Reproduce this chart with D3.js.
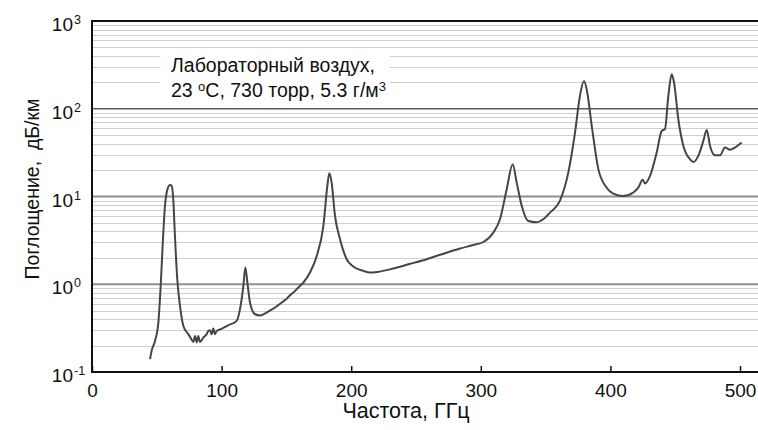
<!DOCTYPE html>
<html>
<head>
<meta charset="utf-8">
<script src="https://cdn.jsdelivr.net/npm/d3@7"></script>
<style>
  body { margin: 0; background: #fff; }
  svg { display: block; font-family: "Liberation Sans", Arial, sans-serif; }
</style>
</head>
<body>
<svg id="chart" width="758" height="430"></svg>
<script>
// frequency, GHz
const freq = [44.8, 46, 48.6, 51.2, 53, 54.5, 56.3, 58.1, 60.2, 61.5, 62.7, 64, 65.8, 67.9, 70.5,
  74.3, 76, 78.2, 79.5, 80.8, 82, 83.3, 85.9, 88.5, 89.8, 91, 92.3, 93.6, 94.9, 96.2, 100, 105,
  111.6, 114.2, 116.8, 118.3, 119.9, 121.9, 125.8, 129.6, 133, 137.3, 141, 146.4, 150, 152.8, 156,
  159.2, 163, 168.2, 173.4, 178.5, 181.6, 183.1, 184.9, 187.5, 191.4, 196.5, 201.6, 209.3, 214.5,
  220, 232.5, 245, 258.2, 270, 284, 294, 302, 309.7, 314.8, 320, 324.6, 327.7, 331.6, 336.7, 343.1,
  348.2, 353.4, 361, 367.5, 372.7, 376.5, 379.6, 381.7, 385.6, 390.7, 397.1, 402.2, 409.9, 417.7,
  421.5, 424.9, 426.7, 430.5, 435.7, 439.6, 442.1, 444.7, 447.3, 449.1, 452.4, 456.3, 461.4, 464,
  467.8, 471.7, 474.3, 476.9, 480.7, 484.6, 488.4, 492.3, 496.1, 501.3];

// absorption, dB/km
const absorption = [0.14, 0.174, 0.226, 0.366, 0.96, 2.73, 7.8, 11.9, 13.5, 13.2, 9.3, 3.55, 1.14, 0.566, 0.335,
  0.27, 0.247, 0.22, 0.258, 0.217, 0.258, 0.22, 0.247, 0.27, 0.294, 0.3, 0.27, 0.313, 0.27, 0.294, 0.31, 0.34,
  0.382, 0.52, 0.96, 1.55, 1.04, 0.62, 0.455, 0.44, 0.46, 0.5, 0.54, 0.62, 0.68, 0.75, 0.82,
  0.92, 1.04, 1.36, 2.1, 4.6, 13.2, 18.4, 14.4, 6.0, 3.26, 1.93, 1.59, 1.42, 1.36,
  1.38, 1.51, 1.7, 1.93, 2.2, 2.55, 2.8, 3.03, 3.89, 5.5, 12.1, 23.3, 14.4, 7.8, 5.26, 5.1,
  5.5, 6.56, 8.9, 18.7, 53.5, 140, 207, 167, 63.9, 20.5, 12.6, 10.8, 10.1, 11.1,
  12.6, 15.5, 14.1, 17.1, 31.7, 55.8, 58.5, 140, 247, 199, 75.9, 37.7, 26.6, 24.7,
  29, 43, 57.3, 37.7, 29.5, 29.5, 36.1, 34.1, 36.1, 41.2];

const xTicks = [0, 100, 200, 300, 400, 500];
const yDecades = [0.1, 1, 10, 100, 1000];
const yExponents = ['-1', '0', '1', '2', '3'];

const legendLines = ['Лабораторный воздух,'];
const xTitle = 'Частота, ГГц';
const yTitle = 'Поглощение,  дБ/км';

const svg = d3.select('#chart');
const plotLeft = 92;
const plotTop = 21;
const plotBottom = 372;
const plotRight = 758;

const x = d3.scaleLinear().domain([0, 500]).range([plotLeft, 740]);
const y = d3.scaleLog().domain([0.1, 1000]).range([plotBottom, plotTop]);

// minor grid
svg.append('g')
  .selectAll('line')
  .data(y.ticks().filter((d) => !yDecades.includes(d)))
  .join('line')
  .attr('x1', plotLeft)
  .attr('x2', plotRight)
  .attr('y1', (d) => Math.round(y(d)) + 0.5)
  .attr('y2', (d) => Math.round(y(d)) + 0.5)
  .attr('stroke', '#cfcfcf')
  .attr('stroke-width', 1.2);

// major grid
svg.append('g')
  .selectAll('line')
  .data([1, 10, 100])
  .join('line')
  .attr('x1', plotLeft)
  .attr('x2', plotRight)
  .attr('y1', (d) => y(d))
  .attr('y2', (d) => y(d))
  .attr('stroke', (d) => (d === 100 ? '#5a5a5a' : '#8e8e8e'))
  .attr('stroke-width', (d) => (d === 100 ? 1.3 : 2));

// legend box
const box = svg.append('g');
box.append('rect')
  .attr('x', 160)
  .attr('y', 51)
  .attr('width', 230)
  .attr('height', 53)
  .attr('fill', '#fff');

box.append('text')
  .attr('x', 171)
  .attr('y', 72)
  .attr('font-size', 19.5)
  .attr('fill', '#111')
  .text(legendLines[0]);

const line2 = box.append('text')
  .attr('x', 171)
  .attr('y', 97)
  .attr('font-size', 19.5)
  .attr('fill', '#111');
line2.append('tspan').text('23 ');
line2.append('tspan').attr('font-size', 13).attr('dy', -6).text('o');
line2.append('tspan').attr('dy', 6).text('C, 730 торр, 5.3 г/м');
line2.append('tspan').attr('font-size', 13).attr('dy', -6).text('3');

// curve
const pts = freq.map((f, i) => [f, absorption[i]]);
svg.append('path')
  .datum(pts)
  .attr('fill', 'none')
  .attr('stroke', '#454545')
  .attr('stroke-width', 2)
  .attr('stroke-linejoin', 'round')
  .attr('d', d3.line().x((d) => x(d[0])).y((d) => y(d[1])).curve(d3.curveMonotoneX));

// frame: top, left, bottom
svg.append('line').attr('x1', plotLeft).attr('x2', plotRight).attr('y1', plotTop).attr('y2', plotTop)
  .attr('stroke', '#111').attr('stroke-width', 2);

const gx = svg.append('g')
  .attr('transform', `translate(0,${plotBottom})`)
  .call(d3.axisBottom(x).tickValues(xTicks).tickSize(-6).tickSizeOuter(0).tickFormat(d3.format('d')));
gx.select('.domain').attr('stroke', '#111').attr('stroke-width', 2).attr('d', `M${plotLeft},0H${plotRight}`);
gx.selectAll('.tick line').attr('stroke', '#111').attr('stroke-width', 1.5);
gx.selectAll('.tick text')
  .attr('y', 25)
  .attr('dy', 0)
  .attr('font-size', 19)
  .attr('font-family', '"Liberation Sans", Arial, sans-serif')
  .attr('fill', '#111');

svg.append('line').attr('x1', plotLeft).attr('x2', plotLeft).attr('y1', plotTop - 1).attr('y2', plotBottom + 1)
  .attr('stroke', '#111').attr('stroke-width', 2);

// y tick labels as 10^n
const yl = svg.append('g').selectAll('g').data(yDecades).join('g');
yl.append('text')
  .attr('x', 73)
  .attr('y', (d) => y(d) + 10)
  .attr('text-anchor', 'end')
  .attr('font-size', 19)
  .attr('fill', '#111')
  .text('10');
yl.append('text')
  .attr('x', 74)
  .attr('y', (d) => y(d) + 3)
  .attr('font-size', 12.5)
  .attr('fill', '#111')
  .text((d, i) => yExponents[i]);

// axis titles
svg.append('text')
  .attr('x', 406)
  .attr('y', 418)
  .attr('text-anchor', 'middle')
  .attr('font-size', 21.5)
  .attr('fill', '#111')
  .text(xTitle);

svg.append('text')
  .attr('transform', 'translate(39,189) rotate(-90)')
  .attr('text-anchor', 'middle')
  .attr('font-size', 19.5)
  .attr('fill', '#111')
  .attr('xml:space', 'preserve')
  .style('white-space', 'pre')
  .text(yTitle);
</script>
</body>
</html>
